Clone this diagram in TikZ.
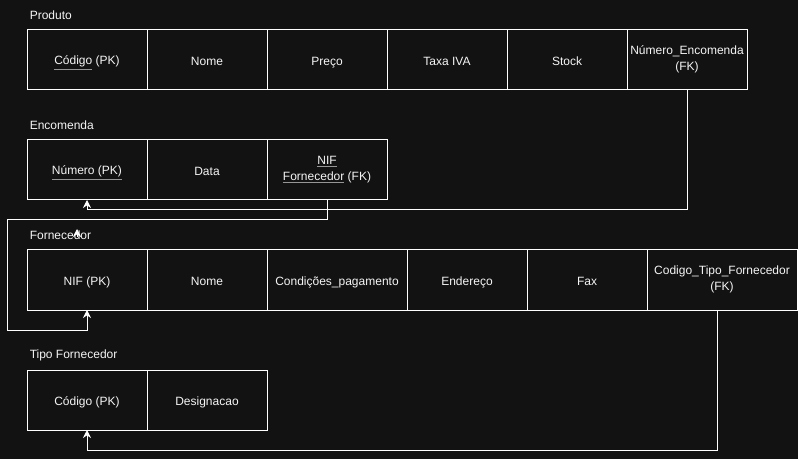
\documentclass[tikz,border=0pt]{standalone}
\usepackage{fontspec}
\setmainfont{Liberation Sans}
\usepackage{xcolor}
\definecolor{bgdark}{RGB}{18, 18, 18}
\definecolor{linewhite}{RGB}{255, 255, 255}
\definecolor{textwhite}{RGB}{245, 245, 245}
\definecolor{ulgray}{RGB}{150, 150, 150}
\usepackage{tikz}
\usetikzlibrary{arrows.meta, positioning, calc}

\newcommand{\ulkey}[1]{\textcolor{ulgray}{\underline{\textcolor{textwhite}{#1}}}}
\newcommand{\cellstrut}{\rule[-3pt]{0pt}{14pt}}

\tikzset{
  cell/.style={draw=linewhite, line width=0.75pt, minimum width=90pt, minimum height=45pt,
    inner sep=0pt, outer sep=0pt, align=center, text=textwhite,
    font=\fontsize{9}{12}\selectfont,
    execute at begin node={\cellstrut}, execute at end node={\cellstrut}},
  tabletitle/.style={anchor=west, inner sep=0pt, text=textwhite, font=\fontsize{9}{12}\selectfont},
  fk/.style={draw=linewhite, line width=0.75pt, -{Stealth[length=6pt, width=6pt]}}
}

\begin{document}
\begin{tikzpicture}[x=0.75pt, y=-0.75pt]
  % Background
  \fill[bgdark] (0,0) rectangle (798,459);
  \useasboundingbox (0,0) rectangle (798,459);

  % Produto
  \node[tabletitle] (tProduto) at (29.5,15) {Produto};
  \node[cell] (pCod) at (87,60) {\ulkey{Código} (PK)};
  \node[cell, right=0pt of pCod] (pNome) {Nome};
  \node[cell, right=0pt of pNome] (pPreco) {Preço};
  \node[cell, right=0pt of pPreco] (pIva) {Taxa IVA};
  \node[cell, right=0pt of pIva] (pStock) {Stock};
  \node[cell, right=0pt of pStock] (pNumEnc) {Número\_Encomenda\\(FK)};

  % Encomenda
  \node[tabletitle] (tEncomenda) at (29.5,125) {Encomenda};
  \node[cell] (eNum) at (87,170) {\ulkey{Número (PK)}};
  \node[cell, right=0pt of eNum] (eData) {Data};
  \node[cell, right=0pt of eData] (eNif) {\ulkey{NIF}\\\ulkey{Fornecedor} (FK)};

  % Fornecedor
  \node[tabletitle] (tFornecedor) at (29.5,235) {Fornecedor};
  \node[cell] (fNif) at (87,280) {NIF (PK)};
  \node[cell, right=0pt of fNif] (fNome) {Nome};
  \node[cell, minimum width=105pt, right=0pt of fNome] (fCond) {Condições\_pagamento};
  \node[cell, right=0pt of fCond] (fEnd) {Endereço};
  \node[cell, right=0pt of fEnd] (fFax) {Fax};
  \node[cell, minimum width=112.5pt, right=0pt of fFax] (fCodTipo) {Codigo\_Tipo\_Fornecedor\\(FK)};

  % Tipo Fornecedor
  \node[tabletitle] (tTipo) at (29.5,355) {Tipo Fornecedor};
  \node[cell] (tCod) at (87,400) {Código (PK)};
  \node[cell, right=0pt of tCod] (tDesig) {Designacao};

  % Foreign keys
  \draw[fk] (pNumEnc.south) -- ++(0,120) -| (eNum.south);
  \draw[fk] (eNif.south) -- ++(0,20) -- ++(-320,0) -- ++(0,110) -| (fNif.south);
  \draw[fk] ($(fCodTipo.south)+(-5,0)$) -- ++(0,140) -| (tCod.south);

  % loose arrow head over the Fornecedor title
  \coordinate (loose) at (77,237);
  \draw[fk] (loose) -- ++(0,-8);
\end{tikzpicture}
\end{document}
